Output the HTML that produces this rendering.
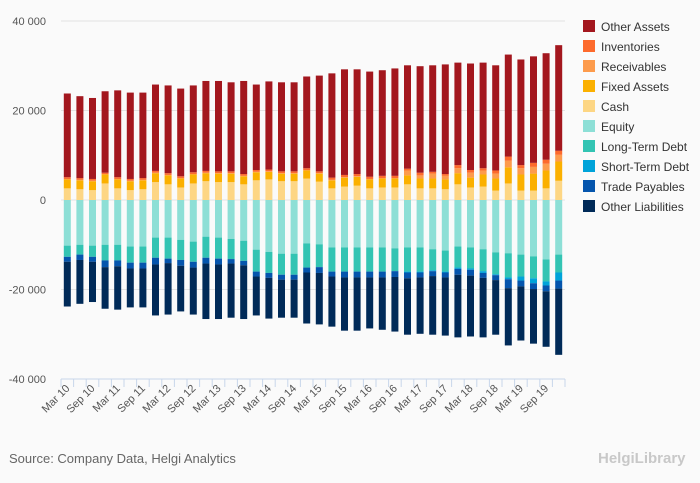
<!DOCTYPE html>
<html><head><meta charset="utf-8"><style>
body{margin:0;background:#fafafa;font-family:"Liberation Sans",sans-serif;}
svg{display:block}
</style></head><body>
<svg id="chart" width="700" height="483">
<rect width="700" height="483" fill="#fafafa"/>
<g id="grid"></g><g id="bars"></g><g id="xaxis"></g><g id="legend"></g>
<text x="9" y="463" font-size="13" fill="#666">Source: Company Data, Helgi Analytics</text>
<text x="598" y="463" font-size="15" font-weight="bold" fill="#c8c8c8">HelgiLibrary</text>
</svg>
<script>
const categories=[];
const yrs=[10,11,12,13,14,15,16,17,18,19],qs=["Mar","Jun","Sep","Dec"];
const tickLabels=[-40000,-20000,0,20000,40000];
const otherAssets=[18.7,18.3,18.1,18.2,19.4,19.3,19.1,19.3,19.6,19.6,19.4,20.1,20.2,19.9,20.8,19.1,19.7,19.9,19.9,20.5,21.4,23.3,23.6,23.4,23.5,23.6,24.0,23.1,23.8,23.8,24.5,22.9,23.8,23.6,23.5,22.8,23.6,23.8,23.8,23.6];
const inventories=[0.4,0.4,0.4,0.3,0.4,0.4,0.4,0.4,0.4,0.4,0.4,0.4,0.4,0.4,0.4,0.4,0.4,0.4,0.4,0.4,0.4,0.5,0.5,0.5,0.5,0.5,0.5,0.4,0.6,0.4,0.4,0.7,0.6,0.5,0.7,0.9,0.7,0.9,0.9,0.9];
const receivables=[0.1,0.1,0.1,0.1,0.1,0.1,0.1,0.1,0.1,0.1,0.1,0.1,0.1,0.1,0.1,0.1,0.1,0.1,0.1,0.1,0.1,0.1,0.1,0.1,0.1,0.1,0.1,1.1,0.7,1.1,0.8,1.1,1.1,0.9,1.1,1.5,1.4,1.5,1.5,1.5];
const fixedAssets=[2.0,2.0,2.0,2.0,2.0,2.0,2.0,2.0,2.0,2.0,2.0,1.8,1.9,1.9,1.8,1.8,1.7,1.7,1.7,1.8,1.8,1.8,2.0,2.0,2.0,2.0,2.0,2.0,2.2,2.2,2.2,2.5,2.2,2.7,2.7,3.6,3.6,3.8,4.0,4.3];
const cash=[2.6,2.4,2.2,3.7,2.6,2.2,2.4,4.0,3.5,2.8,3.7,4.2,4.0,4.0,3.5,4.4,4.6,4.2,4.2,4.8,4.1,2.6,3.0,3.2,2.6,2.8,2.8,3.5,2.6,2.6,2.4,3.5,2.8,3.0,2.1,3.7,2.1,2.1,2.6,4.3];
const equity=[10.2,10.0,10.2,10.0,10.0,10.4,10.4,8.4,8.4,8.9,9.3,8.2,8.4,8.7,9.1,11.1,11.6,12.0,12.0,9.7,9.9,10.6,10.6,10.6,10.6,10.6,10.8,10.6,10.6,11.0,11.3,10.4,10.6,11.0,11.7,11.9,12.2,12.6,13.3,12.2];
const longTermDebt=[2.5,2.2,2.5,3.5,3.5,3.6,3.6,4.5,4.7,4.5,4.5,4.7,4.7,4.5,4.5,4.9,4.7,4.7,4.7,5.4,5.1,5.4,5.4,5.4,5.4,5.4,5.1,5.4,5.4,4.7,4.7,4.7,4.7,4.9,4.9,5.4,4.9,4.9,4.9,4.0];
const shortTermDebt=[0,0,0,0,0,0,0,0,0,0,0,0,0,0,0,0,0,0,0,0,0,0,0,0,0,0,0,0.2,0.2,0.2,0.2,0.3,0.3,0.4,0.2,0.4,0.9,1.1,0.9,1.8];
const tradePayables=[1.1,1.2,1.1,1.5,1.3,1.3,1.3,1.5,1.0,1.3,1.3,1.3,1.3,1.0,1.0,1.1,1.1,1.1,1.1,1.1,1.3,1.1,1.3,1.3,1.3,1.3,1.3,1.3,1.1,1.1,1.1,1.3,1.3,1.1,1.1,2.0,1.3,1.3,1.3,1.8];
const otherLiabilities=[10.0,9.8,9.0,9.3,9.7,8.7,8.7,11.4,11.5,10.2,10.5,12.4,12.2,12.1,12.0,8.7,9.1,8.5,8.5,11.4,11.5,11.2,11.9,11.9,11.4,11.7,12.2,12.6,12.6,13.1,13.0,14.0,13.6,13.3,12.2,12.8,12.1,12.2,12.4,14.8];
yrs.forEach(y=>qs.forEach(q=>categories.push(q+" "+y)));
const NS="http://www.w3.org/2000/svg";
const X0=61,X1=565,Y0=200,PX=89.5/20000;
const band=(X1-X0)/categories.length;
const y=v=>Y0-v*PX;
const xb=i=>X0+i*band;
function mk(t,a,p){const e=document.createElementNS(NS,t);for(const k in a)e.setAttribute(k,a[k]);p.appendChild(e);return e;}
const grid=document.getElementById('grid');
tickLabels.forEach(v=>{
  if(v!==-40000){const l=mk('line',{x1:X0,x2:X1,y1:y(v),y2:y(v),stroke:'#e3e3e3','stroke-width':1},grid);
  
  }
  const t=mk('text',{x:46,y:y(v)+4,'text-anchor':'end','font-size':11,fill:'#555'},grid);
  t.textContent=(v<0?'-':'')+(Math.abs(v)===0?'0':(Math.abs(v)/1000)+' 000');
  
  
});
const pos=[["Other Assets",otherAssets,"#a3171e"],["Inventories",inventories,"#fd6a2c"],["Receivables",receivables,"#fd9b4c"],["Fixed Assets",fixedAssets,"#fbb000"],["Cash",cash,"#fdd684"]];
const neg=[["Equity",equity,"#8ddfd6"],["Long-Term Debt",longTermDebt,"#33c4b3"],["Short-Term Debt",shortTermDebt,"#00a3d9"],["Trade Payables",tradePayables,"#0555ad"],["Other Liabilities",otherLiabilities,"#002a58"]];
const bars=document.getElementById('bars');
categories.forEach((c,i)=>{
  const bx=xb(i)+band/2-3.5;
  let acc=0;
  for(let s=pos.length-1;s>=0;s--){const v=pos[s][1][i]*1000;
    const r=mk('rect',{x:bx,y:y(acc+v),width:7,height:v*PX,fill:pos[s][2]},bars);
    
    
    acc+=v;}
  acc=0;
  neg.forEach(sr=>{const v=sr[1][i]*1000;
    const r=mk('rect',{x:bx,y:y(acc),width:7,height:v*PX,fill:sr[2]},bars);
    
    
    acc-=v;});
});
const xa=document.getElementById('xaxis');
const yb=y(-40000);
const al=mk('line',{x1:X0,x2:X1,y1:yb,y2:yb,stroke:'#c8d6ea'},xa);


for(let i=0;i<=categories.length;i++){
  const tk=mk('line',{x1:xb(i),x2:xb(i),y1:yb,y2:yb+8,stroke:'#c8d6ea'},xa);
  
  
}
categories.forEach((c,i)=>{
  if(i%2)return;
  const cx=xb(i)+band/2+3,cy=yb+10;
  const t=mk('text',{x:cx,y:cy,'text-anchor':'end','font-size':11,fill:'#555',transform:`rotate(-45 ${cx} ${cy})`},xa);
  t.textContent=c;
  
  
});
const lg=document.getElementById('legend');
pos.concat(neg).forEach((s,k)=>{
  const g=mk('g',{},lg);
  
  
  const ly=20+k*20;
  mk('rect',{x:583,y:ly,width:12,height:12,fill:s[2]},g);
  const t=mk('text',{x:601,y:ly+11,'font-size':12,fill:'#333'},g);
  t.textContent=s[0];
});
</script>
</body></html>
